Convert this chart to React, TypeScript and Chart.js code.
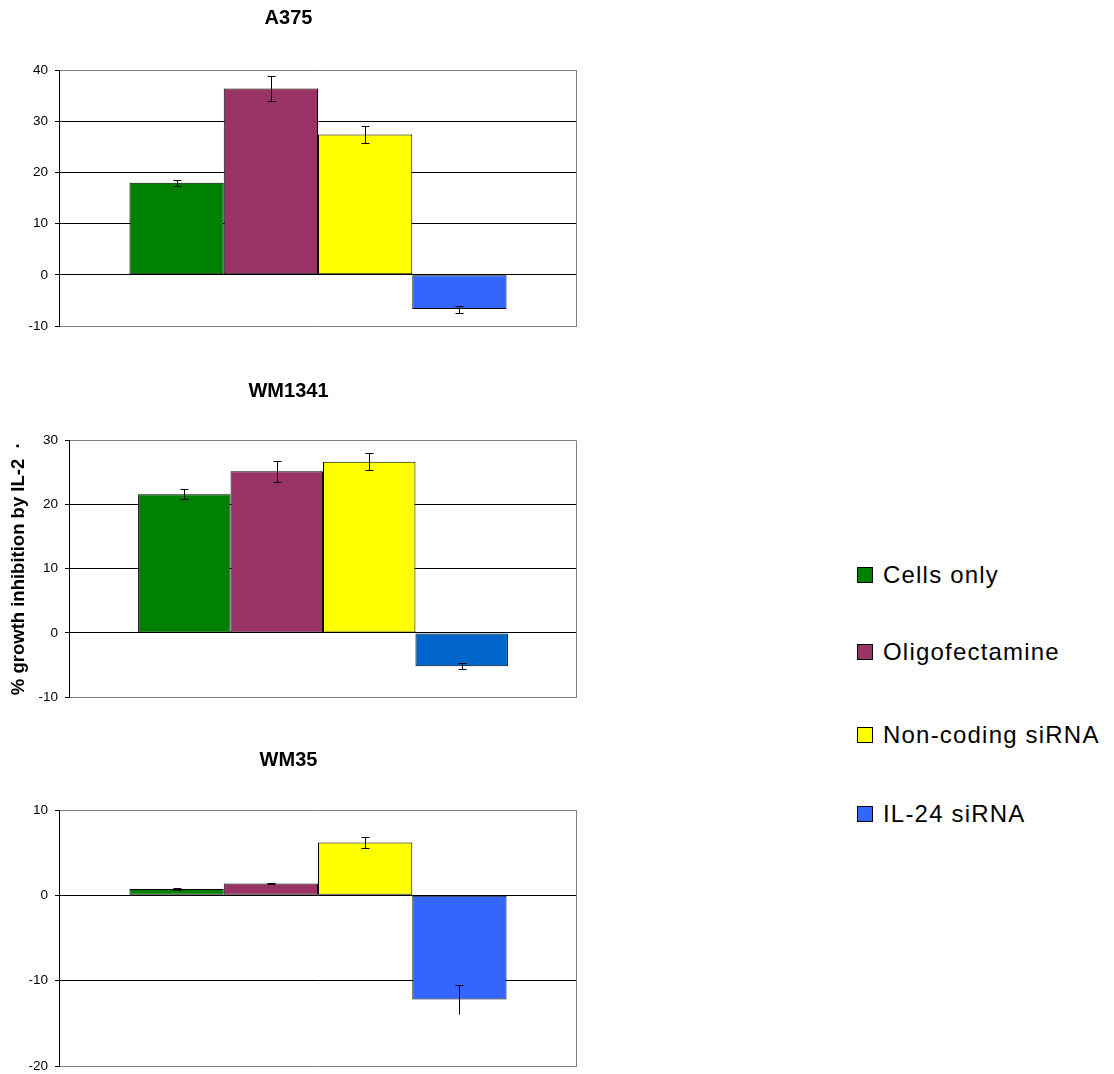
import React, { useEffect, useRef } from "react";
import { Chart, registerables } from "chart.js";

Chart.register(...registerables);

// ---------- data ----------
const seriesNames = ["Cells only", "Oligofectamine", "Non-coding siRNA", "IL-24 siRNA"];
const seriesColors = ["#008000", "#993366", "#FFFF00", "#3366FF"];
const wm1341Colors = ["#008000", "#993366", "#FFFF00", "#0066CC"];

const a375Values = [18.0, 36.4, 27.4, -6.7];
const a375Errors = [0.6, 2.4, 1.6, 0.7];

const wm1341Values = [21.6, 25.2, 26.7, -5.2];
const wm1341Errors = [0.8, 1.6, 1.3, 0.5];

const wm35Values = [0.75, 1.4, 6.2, -12.2];
const wm35Errors = [0.1, 0.1, 0.6, 1.65];
const wm35LowerCaps = [true, true, true, false];

const a375Ticks = [-10, 40];
const wm1341Ticks = [-10, 30];
const wm35Ticks = [-20, 10];

const yAxisTitle = "% growth inhibition by IL-2  \u00B7";

const FONT = "'Liberation Sans', Arial, Helvetica, sans-serif";

type PanelCfg = {
  title: string;
  values: number[];
  errors: number[];
  colors: string[];
  lowerCaps?: boolean[];
  range: number[];
  top: number;
  height: number;
  axisWidth: number;
  titlePadTop: number;
  titlePadBottom: number;
  padBottom: number;
  yTitle?: string;
};

const panels: PanelCfg[] = [
  {
    title: "A375",
    values: a375Values,
    errors: a375Errors,
    colors: seriesColors,
    range: a375Ticks,
    top: 0,
    height: 343,
    axisWidth: 59,
    titlePadTop: 6.5,
    titlePadBottom: 39.5,
    padBottom: 17,
  },
  {
    title: "WM1341",
    values: wm1341Values,
    errors: wm1341Errors,
    colors: wm1341Colors,
    range: wm1341Ticks,
    top: 360,
    height: 354,
    axisWidth: 69,
    titlePadTop: 19,
    titlePadBottom: 37.5,
    padBottom: 17,
    yTitle: yAxisTitle,
  },
  {
    title: "WM35",
    values: wm35Values,
    errors: wm35Errors,
    colors: seriesColors,
    lowerCaps: wm35LowerCaps,
    range: wm35Ticks,
    top: 730,
    height: 353,
    axisWidth: 59,
    titlePadTop: 18,
    titlePadBottom: 38,
    padBottom: 17,
  },
];

// ---------- plugins ----------
const framePlugin = {
  id: "frame",
  beforeDatasetsDraw(chart: any) {
    const { ctx, chartArea } = chart;
    const { right, top, bottom } = chartArea;
    ctx.save();
    ctx.strokeStyle = "#808080";
    ctx.lineWidth = 1;
    ctx.beginPath();
    const r = Math.round(right) - 0.5;
    ctx.moveTo(r, Math.round(top) + 0.5);
    ctx.lineTo(r, Math.round(bottom) + 0.5);
    ctx.stroke();
    ctx.restore();
  },
};

const errorBarPlugin = {
  id: "errorBars",
  afterDatasetsDraw(chart: any) {
    const { ctx } = chart;
    const yScale = chart.scales.y;
    ctx.save();
    ctx.strokeStyle = "#000";
    ctx.lineWidth = 1;
    chart.data.datasets.forEach((ds: any, i: number) => {
      const meta = chart.getDatasetMeta(i);
      const bar: any = meta.data[0];
      if (!bar) return;
      const v = ds.data[0];
      const e = ds.errorValue;
      const x = Math.round(bar.x) + 0.5;
      const yHi = Math.round(yScale.getPixelForValue(v + e)) + 0.5;
      const yLo = Math.round(yScale.getPixelForValue(v - e)) + 0.5;
      const cap = 4;
      ctx.beginPath();
      ctx.moveTo(x, yHi);
      ctx.lineTo(x, yLo);
      ctx.moveTo(x - cap, yHi);
      ctx.lineTo(x + cap, yHi);
      if (ds.lowerCap !== false) {
        ctx.moveTo(x - cap, yLo);
        ctx.lineTo(x + cap, yLo);
      }
      ctx.stroke();
    });
    ctx.restore();
  },
};

function Panel({ cfg }: { cfg: PanelCfg }) {
  const ref = useRef<HTMLCanvasElement | null>(null);
  useEffect(() => {
    if (!ref.current) return;
    const [min, max] = cfg.range;
    const chart = new Chart(ref.current, {
      type: "bar",
      data: {
        labels: [""],
        datasets: seriesNames.map((name, i) => ({
          label: name,
          data: [cfg.values[i]],
          errorValue: cfg.errors[i],
          lowerCap: cfg.lowerCaps ? cfg.lowerCaps[i] : true,
          backgroundColor: cfg.colors[i],
          borderColor: "#000",
          borderWidth: 1,
          borderSkipped: false,
          categoryPercentage: 0.728,
          barPercentage: 1,
        })) as any,
      },
      options: {
        animation: false,
        responsive: false,
        maintainAspectRatio: false,
        layout: {
          padding: { left: 0, right: 17, top: 0, bottom: cfg.padBottom },
        },
        plugins: {
          legend: { display: false },
          tooltip: { enabled: false },
          title: {
            display: true,
            text: cfg.title,
            color: "#000",
            font: { family: FONT, size: 20, weight: "bold" },
            padding: { top: cfg.titlePadTop, bottom: cfg.titlePadBottom },
          },
        },
        scales: {
          x: { display: false },
          y: {
            min,
            max,
            afterFit: (scale: any) => {
              scale.width = cfg.axisWidth;
            },
            ticks: {
              stepSize: 10,
              color: "#000",
              padding: 7,
              font: { family: FONT, size: 13.5 },
            },
            grid: {
              color: (c: any) =>
                c.tick && (c.tick.value === min || c.tick.value === max) ? "#808080" : "#000",
              tickColor: "#000",
              tickLength: 4,
              lineWidth: 1,
            },
            border: { display: true, color: "#000", width: 1 },
            title: cfg.yTitle
              ? {
                  display: true,
                  text: cfg.yTitle,
                  color: "#000",
                  font: { family: FONT, size: 18.5, weight: "bold" },
                  padding: { top: 8, bottom: 0 },
                }
              : { display: false },
          },
        },
      } as any,
      plugins: [framePlugin, errorBarPlugin],
    });
    return () => chart.destroy();
  }, []);
  return (
    <canvas
      ref={ref}
      width={594}
      height={cfg.height}
      style={{ position: "absolute", left: 0, top: cfg.top, width: 594, height: cfg.height }}
    />
  );
}

const legendCenters = [574.5, 652, 734.5, 813.5];

export default function App() {
  return (
    <div
      style={{
        position: "absolute",
        left: 0,
        top: 0,
        width: 1114,
        height: 1074,
        background: "#fff",
        overflow: "hidden",
      }}
    >
      {panels.map((p) => (
        <Panel key={p.title} cfg={p} />
      ))}
      {seriesNames.map((name, i) => (
        <div
          key={name}
          style={{
            position: "absolute",
            left: 857,
            top: legendCenters[i] - 15,
            height: 30,
            display: "flex",
            alignItems: "center",
            whiteSpace: "nowrap",
            fontFamily: FONT,
            fontSize: 24,
            letterSpacing: 1.2,
            color: "#000",
            lineHeight: "30px",
          }}
        >
          <span
            style={{
              display: "inline-block",
              width: 16,
              height: 16,
              boxSizing: "border-box",
              border: "1px solid #000",
              background: seriesColors[i],
              marginRight: 10,
            }}
          />
          <span>{name}</span>
        </div>
      ))}
    </div>
  );
}
